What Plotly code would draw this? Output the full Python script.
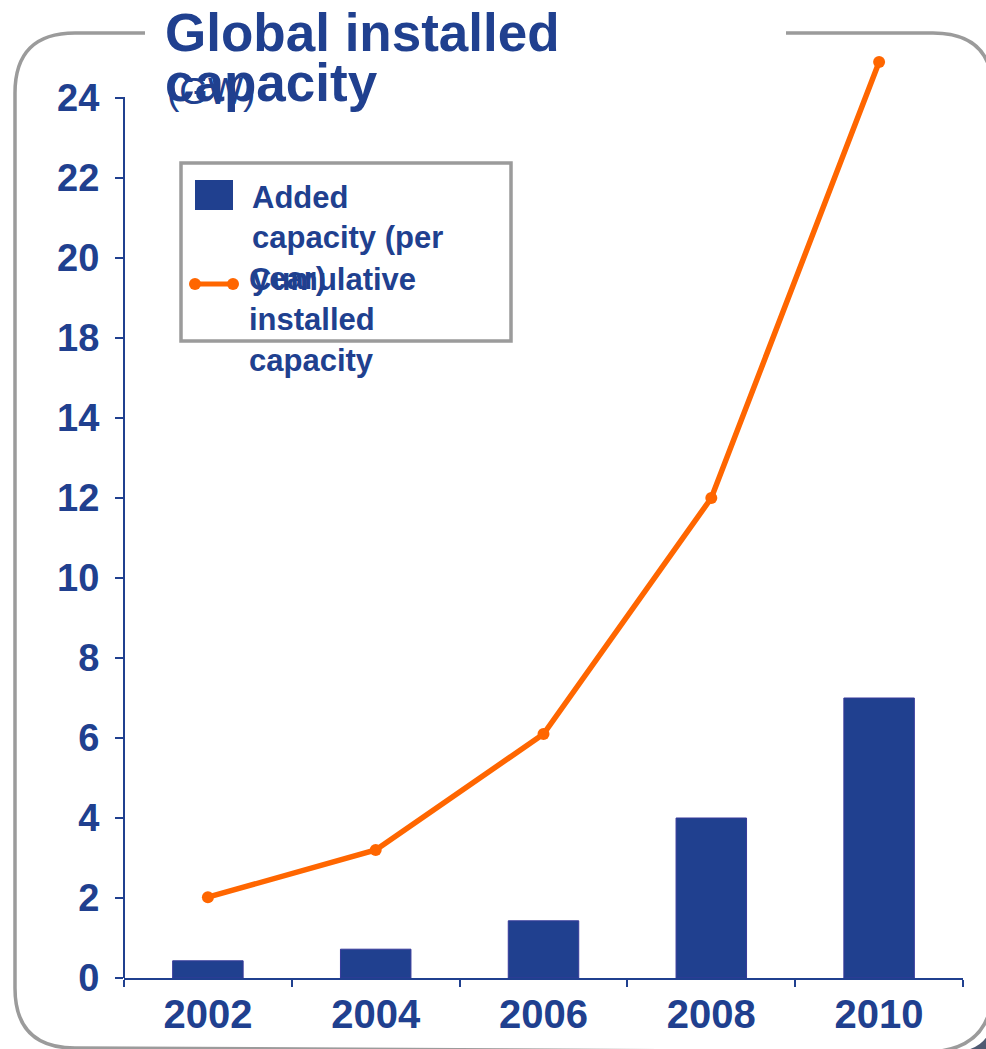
import plotly.graph_objects as go

# ---------------- data ----------------
years = ["2002", "2004", "2006", "2008", "2010"]
added_capacity = [0.43, 0.72, 1.43, 4.0, 7.0]          # bars (axis units)
cumulative_capacity = [2.02, 3.2, 6.1, 12.0, 22.9]     # line (axis units as drawn)
ytick_positions = [0, 2, 4, 6, 8, 10, 12, 14, 16, 18, 20, 22]
ytick_labels = ["0", "2", "4", "6", "8", "10", "12", "14", "18", "20", "22", "24"]

title_line1 = "Global installed"
title_line2 = "capacity"
unit_text = "(GW)"
legend_bar_text = "Added<br>capacity (per<br>year)"
legend_line_text = "Cumulative<br>installed<br>capacity"

# ---------------- geometry ----------------
W, H = 986, 1049
ML, MR, MT, MB = 124, 23, 50, 71
PW = W - ML - MR
PH = H - MT - MB
UNIT_PX = 40.0
AXIS_TOP = (H - MB - 97) / UNIT_PX   # where the drawn y-axis line ends

BLUE = "#20408F"
ORANGE = "#FF6600"
GRAY = "#9B9B9B"
FONT = "Liberation Sans, Arial, sans-serif"


def px(x):
    return (x - ML) / PW


def py(y):
    return (H - MB - y) / PH


def P(x, y):
    return f"{px(x):.5f},{py(y):.5f}"


fig = go.Figure()

fig.add_trace(go.Bar(
    x=years, y=added_capacity, width=0.42,
    marker=dict(color=BLUE, line=dict(color="#36399A", width=1)),
    showlegend=False, name="Added capacity (per year)",
))
fig.add_trace(go.Scatter(
    x=years, y=cumulative_capacity, mode="lines+markers",
    line=dict(color=ORANGE, width=5.5), marker=dict(color=ORANGE, size=12),
    cliponaxis=False, showlegend=False, name="Cumulative installed capacity",
))

shapes = []

# dark corner background bottom-right
shapes.append(dict(
    type="path", xref="paper", yref="paper", layer="below",
    path=f"M {P(993,1012)} Q {P(993,1052)} {P(950,1052)} L {P(1000,1060)} L {P(1000,1012)} Z",
    fillcolor="#4F5A72", line=dict(width=0),
))
# rounded frame (gap behind the title)
frame = (f"M {P(145,33)} L {P(75,33)} Q {P(15,33)} {P(15,93)} L {P(15,988)} "
         f"Q {P(15,1048)} {P(75,1048)} L {P(925,1052)} Q {P(993,1052)} {P(993,985)} "
         f"L {P(993,93)} Q {P(993,33)} {P(933,33)} L {P(786,33)}")
shapes.append(dict(type="path", xref="paper", yref="paper", path=frame,
                   line=dict(color=GRAY, width=3.5), layer="below"))

# y-axis line (drawn so the plot area can extend above it)
shapes.append(dict(type="line", xref="paper", yref="y", x0=0, x1=0, y0=0, y1=AXIS_TOP,
                   line=dict(color=BLUE, width=2)))

# legend box
shapes.append(dict(type="rect", xref="paper", yref="paper",
                   x0=px(181), x1=px(511), y0=py(163), y1=py(341),
                   line=dict(color=GRAY, width=3.5), fillcolor="white", layer="below"))
shapes.append(dict(type="rect", xref="paper", yref="paper",
                   x0=px(195), x1=px(233), y0=py(180), y1=py(210),
                   line=dict(width=0), fillcolor=BLUE))
shapes.append(dict(type="line", xref="paper", yref="paper",
                   x0=px(195), x1=px(233), y0=py(284), y1=py(284),
                   line=dict(color=ORANGE, width=5)))
for cx in (195, 233):
    shapes.append(dict(type="circle", xref="paper", yref="paper",
                       x0=px(cx - 6), x1=px(cx + 6), y0=py(278), y1=py(290),
                       line=dict(width=0), fillcolor=ORANGE))

annotations = [
    dict(text=title_line1, x=px(163), y=py(1), xanchor="left", yanchor="top",
         font=dict(family=FONT, size=53, color=BLUE, weight="bold")),
    dict(text=unit_text, x=px(165), y=py(69), xanchor="left", yanchor="top",
         font=dict(family=FONT, size=37, color=BLUE)),
    dict(text=title_line2, x=px(163), y=py(51), xanchor="left", yanchor="top",
         font=dict(family=FONT, size=53, color=BLUE, weight="bold")),
    dict(text=legend_bar_text, x=px(250), y=py(178), xanchor="left", yanchor="top",
         align="left", font=dict(family=FONT, size=31, color=BLUE, weight="bold")),
    dict(text=legend_line_text, x=px(247), y=py(260), xanchor="left", yanchor="top",
         align="left", font=dict(family=FONT, size=31, color=BLUE, weight="bold")),
]
for a in annotations:
    a.update(xref="paper", yref="paper", showarrow=False)

fig.update_layout(
    width=W, height=H,
    margin=dict(l=ML, r=MR, t=MT, b=MB, pad=0),
    paper_bgcolor="white", plot_bgcolor="white",
    shapes=shapes, annotations=annotations,
)
fig.update_xaxes(
    type="category", range=[-0.5, 4.5], showline=True, linecolor=BLUE, linewidth=2,
    ticks="outside", tickson="boundaries", ticklen=7, tickwidth=2, tickcolor=BLUE,
    showgrid=False, zeroline=False,
    tickfont=dict(family=FONT, size=40, color=BLUE, weight="bold"),
)
fig.update_yaxes(
    range=[0, PH / UNIT_PX], showline=False,
    tickmode="array", tickvals=ytick_positions, ticktext=ytick_labels,
    ticks="outside", ticklen=8, tickwidth=2, tickcolor=BLUE,
    showgrid=False, zeroline=False, ticklabelstandoff=8,
    tickfont=dict(family=FONT, size=38, color=BLUE, weight="bold"),
)

fig.write_html("out.html", config={"displayModeBar": False},
               post_script="document.body.style.margin='0';document.body.style.overflow='hidden';")
